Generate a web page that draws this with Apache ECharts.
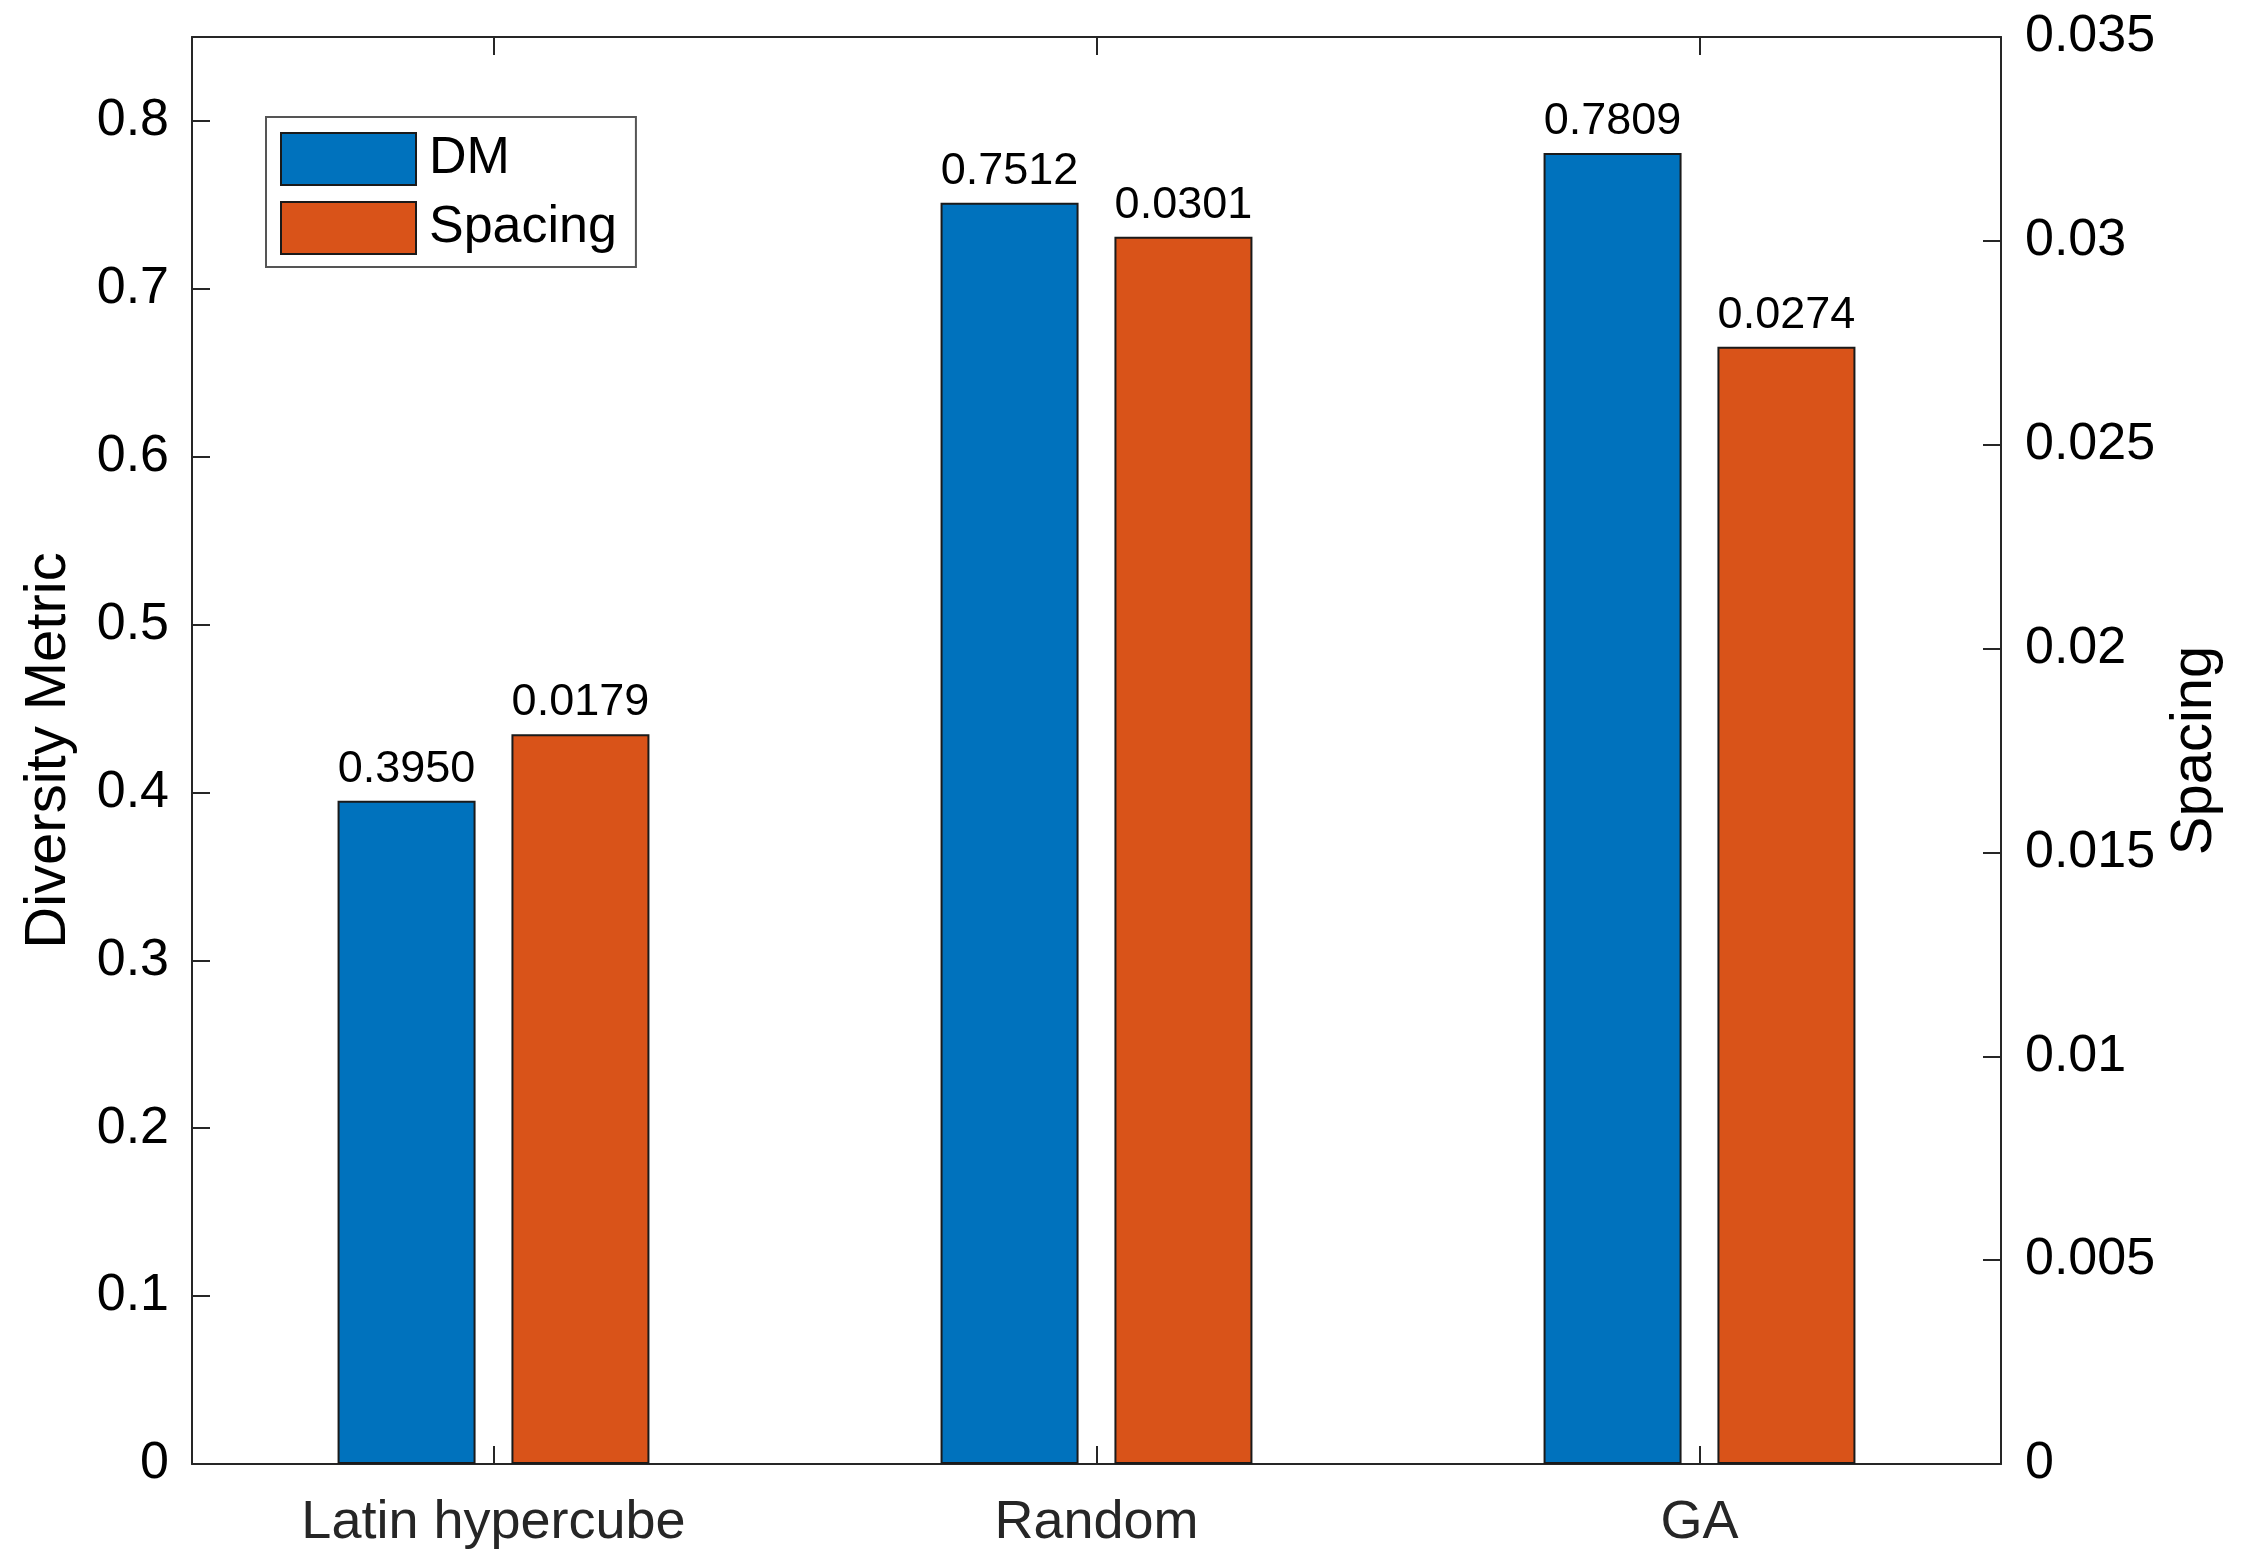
<!DOCTYPE html>
<html>
<head>
<meta charset="utf-8">
<script src="https://cdn.jsdelivr.net/npm/echarts@6/dist/echarts.min.js"></script>
<style>html,body{margin:0;padding:0;background:#fff;}#c{width:2244px;height:1568px;}</style>
</head>
<body>
<div id="c"></div>
<script>
const categories = ['Latin hypercube', 'Random', 'GA'];
const dmValues = [0.3950, 0.7512, 0.7809];
const spacingValues = [0.0179, 0.0301, 0.0274];
const seriesNames = ['DM', 'Spacing'];
const leftAxisName = 'Diversity Metric';
const rightAxisName = 'Spacing';

const FONT = 'Liberation Sans, Arial, Helvetica, sans-serif';
const AX = '#262626';
const chart = echarts.init(document.getElementById('c'), null, {renderer: 'canvas'});
const labelCfg = {
  show: true, position: 'top', distance: 9,
  fontFamily: FONT, fontSize: 45, color: '#000',
  formatter: p => p.value.toFixed(4)
};
chart.setOption({
  backgroundColor: '#fff',
  animation: false,
  grid: {left: 192, right: 243, top: 37, bottom: 104, containLabel: false},
  legend: {
    left: 266, top: 117, orient: 'vertical',
    icon: 'rect',
    itemWidth: 135, itemHeight: 52, itemGap: 15,
    padding: [15, 19, 12, 14],
    borderColor: '#555', borderWidth: 2, backgroundColor: '#fff',
    selectedMode: false,
    textStyle: {fontFamily: FONT, fontSize: 52, color: '#000', padding: [4, 0, 0, 8]},
    data: seriesNames
  },
  xAxis: [{
    type: 'category', data: categories, position: 'bottom',
    axisLine: {show: true, onZero: false, lineStyle: {color: AX, width: 2}},
    axisTick: {show: true, inside: true, alignWithLabel: true, length: 18, lineStyle: {color: AX, width: 2}},
    axisLabel: {fontFamily: FONT, fontSize: 54, color: AX, margin: 32},
    splitLine: {show: false}
  }, {
    type: 'category', data: categories, position: 'top',
    axisLine: {show: true, onZero: false, lineStyle: {color: AX, width: 2}},
    axisTick: {show: true, inside: true, alignWithLabel: true, length: 18, lineStyle: {color: AX, width: 2}},
    axisLabel: {show: false},
    splitLine: {show: false}
  }],
  yAxis: [{
    type: 'value', position: 'left', min: 0, max: 0.85, interval: 0.1,
    name: leftAxisName, nameLocation: 'middle', nameRotate: 90, nameGap: 114,
    nameTextStyle: {fontFamily: FONT, fontSize: 58, color: '#000'},
    axisLine: {show: true, onZero: false, lineStyle: {color: AX, width: 2}},
    axisTick: {show: true, inside: true, length: 18, lineStyle: {color: AX, width: 2}},
    axisLabel: {fontFamily: FONT, fontSize: 52, color: '#000', margin: 23, showMaxLabel: false,
      formatter: v => (Math.abs(v - 0.85) < 1e-9 ? '' : String(+v.toFixed(3)))},
    splitLine: {show: false}
  }, {
    type: 'value', position: 'right', min: 0, max: 0.035, interval: 0.005,
    name: rightAxisName, nameLocation: 'middle', nameRotate: 90, nameGap: 150,
    nameTextStyle: {fontFamily: FONT, fontSize: 58, color: '#000'},
    axisLine: {show: true, onZero: false, lineStyle: {color: AX, width: 2}},
    axisTick: {show: true, inside: true, length: 18, lineStyle: {color: AX, width: 2}},
    axisLabel: {fontFamily: FONT, fontSize: 52, color: '#000', margin: 24,
      formatter: v => String(+v.toFixed(4))},
    splitLine: {show: false}
  }],
  series: [{
    name: seriesNames[0], type: 'bar', xAxisIndex: 0, yAxisIndex: 0,
    data: dmValues, barWidth: 138, barGap: '26%',
    itemStyle: {color: '#0072BD', borderColor: '#1a1a1a', borderWidth: 2},
    label: labelCfg
  }, {
    name: seriesNames[1], type: 'bar', xAxisIndex: 0, yAxisIndex: 1,
    data: spacingValues, barWidth: 138, barGap: '26%',
    itemStyle: {color: '#D95319', borderColor: '#1a1a1a', borderWidth: 2},
    label: labelCfg
  }]
});
</script>
</body>
</html>
